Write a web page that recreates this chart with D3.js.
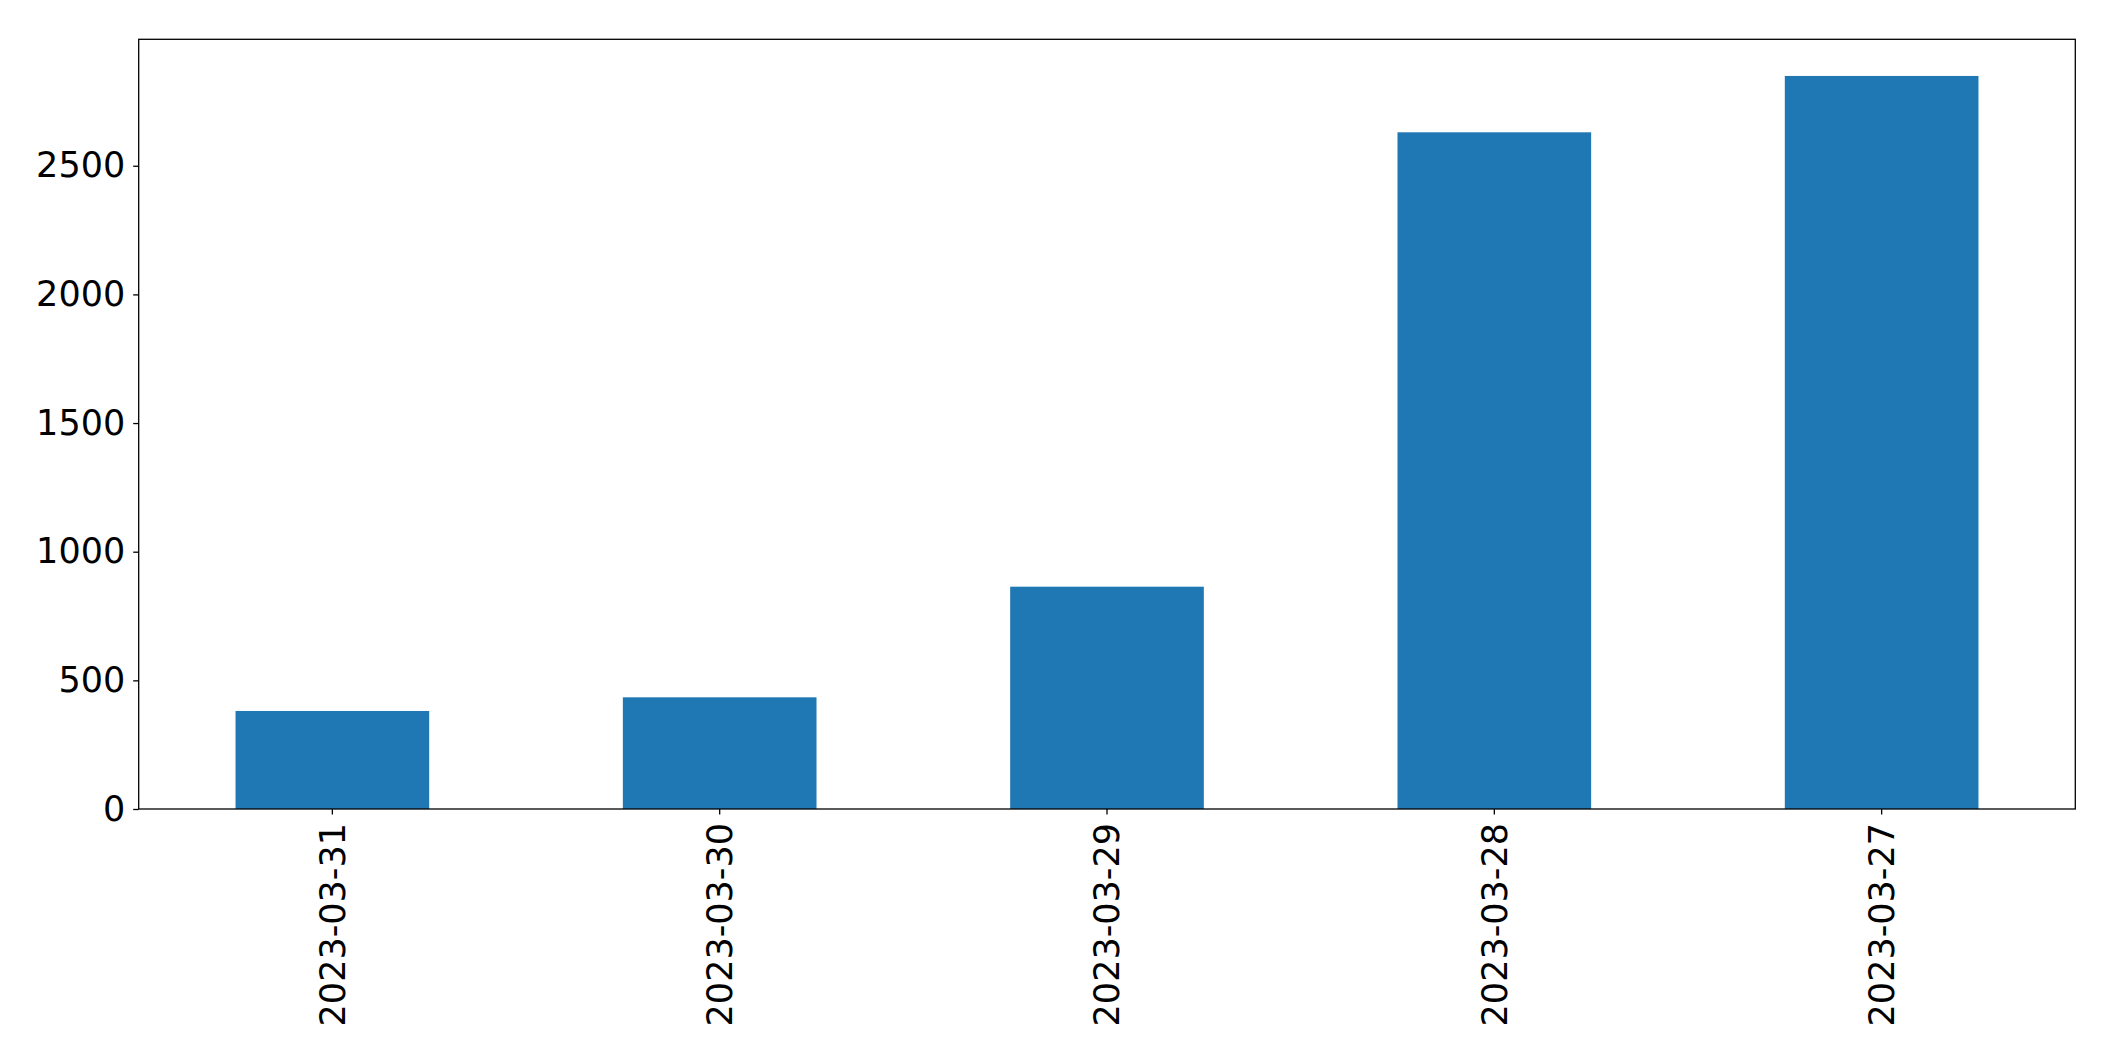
<!DOCTYPE html>
<html>
<head>
<meta charset="utf-8">
<script src="https://cdn.jsdelivr.net/npm/d3@7"></script>
<style>
  html, body { margin: 0; padding: 0; background: #fff; }
  svg { display: block; }
  .tick text { font-family: "DejaVu Sans", sans-serif; }
</style>
</head>
<body>
<svg id="chart" width="2115" height="1061"></svg>
<script>
const categories = ["2023-03-31", "2023-03-30", "2023-03-29", "2023-03-28", "2023-03-27"];
const values = [381, 434, 864, 2630, 2849];
const yTicks = [0, 500, 1000, 1500, 2000, 2500];

const W = 2115, H = 1061;
const margin = { left: 138.7, right: W - 2075.3, top: 39.3, bottom: H - 809 };
const svg = d3.select("#chart");
const innerW = W - margin.left - margin.right;
const innerH = H - margin.top - margin.bottom;

const g = svg.append("g").attr("transform", `translate(${margin.left},${margin.top})`);

const x = d3.scaleBand().domain(categories).range([0, innerW]).paddingInner(0.5).paddingOuter(0.25);
const y = d3.scaleLinear().domain([0, d3.max(values) * 1.05]).range([innerH, 0]);

g.selectAll("rect.bar").data(values).enter().append("rect")
  .attr("class", "bar")
  .attr("x", (d, i) => x(categories[i]))
  .attr("width", x.bandwidth())
  .attr("y", d => y(d))
  .attr("height", d => innerH - y(d))
  .attr("fill", "#1f77b4");

const yAxis = g.append("g")
  .call(d3.axisLeft(y).tickValues(yTicks).tickFormat(d3.format("d")).tickSize(5.5).tickPadding(8));
yAxis.select(".domain").remove();
yAxis.selectAll("text").attr("font-size", 35).attr("fill", "#000");
yAxis.selectAll("line").attr("stroke", "#000").attr("stroke-width", 1.3);

const xAxis = g.append("g").attr("transform", `translate(0,${innerH})`)
  .call(d3.axisBottom(x).tickSize(5.5).tickPadding(10));
xAxis.select(".domain").remove();
xAxis.selectAll("line").attr("stroke", "#000").attr("stroke-width", 1.3);
xAxis.selectAll("text")
  .attr("font-size", 35)
  .attr("fill", "#000")
  .attr("transform", "rotate(-90)")
  .attr("text-anchor", "end")
  .attr("x", -14)
  .attr("y", 0)
  .attr("dy", "0.35em");

g.append("rect")
  .attr("x", 0).attr("y", 0)
  .attr("width", innerW).attr("height", innerH)
  .attr("fill", "none").attr("stroke", "#000").attr("stroke-width", 1.3);
</script>
</body>
</html>
